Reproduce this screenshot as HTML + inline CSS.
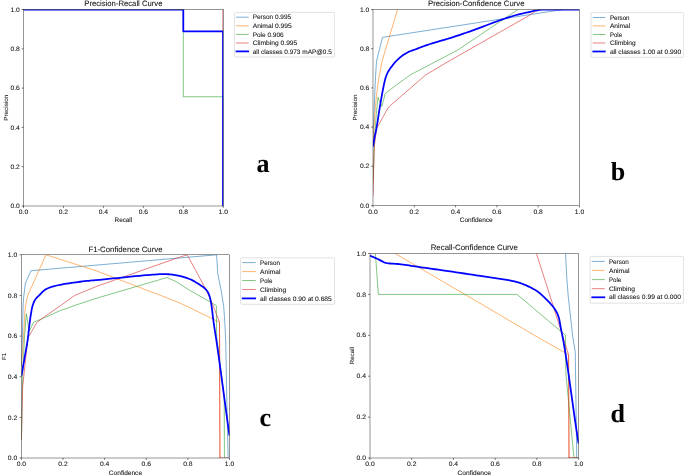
<!DOCTYPE html>
<html lang="en">
<head>
<meta charset="utf-8">
<title>PR, P, F1 and R curves</title>
<style>
html,body{margin:0;padding:0;background:#fff;}
body{width:685px;height:476px;overflow:hidden;font-family:"Liberation Sans",sans-serif;}
svg{display:block;font-family:"Liberation Sans",sans-serif;}
svg text{text-rendering:geometricPrecision;stroke:#111;stroke-width:0.12px;stroke-opacity:0.6;}
</style>
</head>
<body>
<svg width="685" height="476" viewBox="0 0 685 476">
<rect x="0" y="0" width="685" height="476" fill="#ffffff"/>
<g opacity="0.995">
<g id="panel-a">
<clipPath id="clip-a"><rect x="23.50" y="9.50" width="199.75" height="196.50"/></clipPath>
<g clip-path="url(#clip-a)" fill="none" stroke-linejoin="round" stroke-linecap="butt">
<path d="M222.69,9.50 L222.69,31.31" stroke="#e08a8a" stroke-width="0.94"/>
<path d="M23.50,9.50 L183.30,9.50 L183.30,96.75 L223.25,96.75 L223.25,206.00" stroke="#2ca02c" stroke-width="0.59"/>
<path d="M23.50,9.50 L183.30,9.50 L183.30,31.31 L222.99,31.31 L222.99,206.00" stroke="#0000ff" stroke-width="1.76"/>
</g>
<rect x="23.50" y="9.50" width="199.75" height="196.50" fill="none" stroke="#000" stroke-width="0.42"/>
<path d="M23.50,206.00v1.85M23.50,206.00h-1.85" stroke="#000" stroke-width="0.55"/>
<text x="23.50" y="213.70" font-size="6.47" text-anchor="middle" fill="#111" textLength="9.35" lengthAdjust="spacingAndGlyphs">0.0</text>
<text x="19.75" y="208.15" font-size="6.47" text-anchor="end" fill="#111" textLength="9.35" lengthAdjust="spacingAndGlyphs">0.0</text>
<path d="M63.45,206.00v1.85M23.50,166.70h-1.85" stroke="#000" stroke-width="0.55"/>
<text x="63.45" y="213.70" font-size="6.47" text-anchor="middle" fill="#111" textLength="9.35" lengthAdjust="spacingAndGlyphs">0.2</text>
<text x="19.75" y="168.85" font-size="6.47" text-anchor="end" fill="#111" textLength="9.35" lengthAdjust="spacingAndGlyphs">0.2</text>
<path d="M103.40,206.00v1.85M23.50,127.40h-1.85" stroke="#000" stroke-width="0.55"/>
<text x="103.40" y="213.70" font-size="6.47" text-anchor="middle" fill="#111" textLength="9.35" lengthAdjust="spacingAndGlyphs">0.4</text>
<text x="19.75" y="129.55" font-size="6.47" text-anchor="end" fill="#111" textLength="9.35" lengthAdjust="spacingAndGlyphs">0.4</text>
<path d="M143.35,206.00v1.85M23.50,88.10h-1.85" stroke="#000" stroke-width="0.55"/>
<text x="143.35" y="213.70" font-size="6.47" text-anchor="middle" fill="#111" textLength="9.35" lengthAdjust="spacingAndGlyphs">0.6</text>
<text x="19.75" y="90.25" font-size="6.47" text-anchor="end" fill="#111" textLength="9.35" lengthAdjust="spacingAndGlyphs">0.6</text>
<path d="M183.30,206.00v1.85M23.50,48.80h-1.85" stroke="#000" stroke-width="0.55"/>
<text x="183.30" y="213.70" font-size="6.47" text-anchor="middle" fill="#111" textLength="9.35" lengthAdjust="spacingAndGlyphs">0.8</text>
<text x="19.75" y="50.95" font-size="6.47" text-anchor="end" fill="#111" textLength="9.35" lengthAdjust="spacingAndGlyphs">0.8</text>
<path d="M223.25,206.00v1.85M23.50,9.50h-1.85" stroke="#000" stroke-width="0.55"/>
<text x="223.25" y="213.70" font-size="6.47" text-anchor="middle" fill="#111" textLength="9.35" lengthAdjust="spacingAndGlyphs">1.0</text>
<text x="19.75" y="11.65" font-size="6.47" text-anchor="end" fill="#111" textLength="9.35" lengthAdjust="spacingAndGlyphs">1.0</text>
<text x="123.38" y="6.27" font-size="7.76" text-anchor="middle" fill="#111" textLength="78.14" lengthAdjust="spacingAndGlyphs">Precision-Recall Curve</text>
<text x="123.38" y="222.00" font-size="6.47" text-anchor="middle" fill="#111" textLength="17.54" lengthAdjust="spacingAndGlyphs">Recall</text>
<text transform="translate(7.77,107.75) rotate(-90)" font-size="5.88" text-anchor="middle" fill="#1a1a1a" textLength="26.24" lengthAdjust="spacingAndGlyphs">Precision</text>
<rect x="234.50" y="12.40" width="100.20" height="44.60" rx="1.18" fill="#fff" stroke="#cccccc" stroke-width="0.59"/>
<path d="M236.50,17.20H248.20" stroke="#1f77b4" stroke-width="0.59" stroke-linecap="square"/>
<text x="252.70" y="19.32" font-size="6.47" text-anchor="start" fill="#111" textLength="38.46" lengthAdjust="spacingAndGlyphs">Person 0.995</text>
<path d="M236.50,25.80H248.20" stroke="#ff7f0e" stroke-width="0.59" stroke-linecap="square"/>
<text x="252.70" y="27.92" font-size="6.47" text-anchor="start" fill="#111" textLength="39.05" lengthAdjust="spacingAndGlyphs">Animal 0.995</text>
<path d="M236.50,34.40H248.20" stroke="#2ca02c" stroke-width="0.59" stroke-linecap="square"/>
<text x="252.70" y="36.52" font-size="6.47" text-anchor="start" fill="#111" textLength="30.89" lengthAdjust="spacingAndGlyphs">Pole 0.906</text>
<path d="M236.50,43.00H248.20" stroke="#d62728" stroke-width="0.59" stroke-linecap="square"/>
<text x="252.70" y="45.12" font-size="6.47" text-anchor="start" fill="#111" textLength="44.63" lengthAdjust="spacingAndGlyphs">Climbing 0.995</text>
<path d="M236.50,51.40H248.20" stroke="#0000ff" stroke-width="1.76" stroke-linecap="square"/>
<text x="252.70" y="53.52" font-size="6.47" text-anchor="start" fill="#111" textLength="79.12" lengthAdjust="spacingAndGlyphs">all classes 0.973 mAP@0.5</text>
<text x="256.50" y="172.30" font-family="'Liberation Serif', serif" font-weight="bold" font-size="26" fill="#000">a</text>
</g>
<g id="panel-b">
<clipPath id="clip-b"><rect x="373.00" y="9.50" width="206.50" height="196.00"/></clipPath>
<g clip-path="url(#clip-b)" fill="none" stroke-linejoin="round" stroke-linecap="butt">
<path d="M373.00,140.82 L374.18,108.09 L375.35,80.06 L376.51,61.05 L382.50,37.33 L562.98,9.50" stroke="#1f77b4" stroke-width="0.59"/>
<path d="M373.00,140.82 L375.35,108.09 L376.24,97.70 L378.47,80.06 L382.09,61.05 L397.57,9.50" stroke="#ff7f0e" stroke-width="0.59"/>
<path d="M373.00,182.57 L374.65,136.90 L376.24,114.75 L378.00,97.31 L381.82,106.52 L385.35,93.19 L410.17,74.96 L457.66,50.07 L517.96,9.50" stroke="#2ca02c" stroke-width="0.59"/>
<path d="M373.00,195.70 L374.24,146.70 L376.72,128.08 L378.31,125.34 L383.30,116.52 L388.30,107.34 L425.66,74.96 L450.35,60.30 L528.00,16.16 L538.20,9.50" stroke="#d62728" stroke-width="0.59"/>
<path d="M373.00,146.70 L373.24,145.17 L373.48,143.67 L373.72,142.20 L373.96,140.78 L374.19,139.41 L374.43,138.07 L374.68,136.78 L374.94,135.43 L375.21,134.17 L375.48,132.96 L375.75,131.76 L376.02,130.53 L376.29,129.23 L376.58,127.71 L376.97,125.47 L377.35,123.06 L377.74,120.54 L378.13,117.95 L378.52,115.36 L378.91,112.83 L379.25,110.68 L379.47,109.35 L379.69,108.02 L379.91,106.71 L380.12,105.40 L380.34,104.11 L380.56,102.84 L380.80,101.43 L381.09,99.75 L381.38,98.08 L381.67,96.42 L381.96,94.80 L382.25,93.21 L382.54,91.68 L382.87,89.98 L383.26,87.99 L383.65,86.01 L384.04,84.09 L384.43,82.27 L384.82,80.60 L385.20,79.12 L385.59,77.85 L385.98,76.70 L386.37,75.63 L386.76,74.65 L387.15,73.74 L387.53,72.90 L387.92,72.12 L388.38,71.28 L388.87,70.44 L389.37,69.66 L389.86,68.94 L390.36,68.26 L390.86,67.59 L391.35,66.93 L391.98,66.10 L392.66,65.21 L393.35,64.34 L394.03,63.50 L394.71,62.70 L395.40,61.93 L396.08,61.20 L397.03,60.25 L398.05,59.26 L399.07,58.32 L400.10,57.43 L401.12,56.58 L402.14,55.79 L403.16,55.06 L404.03,54.48 L404.89,53.94 L405.74,53.42 L406.59,52.94 L407.44,52.48 L408.29,52.05 L409.14,51.66 L409.99,51.29 L410.84,50.96 L411.70,50.65 L412.55,50.36 L413.40,50.07 L414.25,49.78 L415.14,49.46 L416.82,48.83 L418.50,48.19 L420.18,47.55 L421.86,46.91 L423.55,46.29 L425.23,45.68 L426.91,45.10 L428.63,44.52 L430.36,43.97 L432.08,43.43 L433.80,42.90 L435.52,42.37 L437.24,41.85 L438.88,41.36 L440.24,40.96 L441.60,40.56 L442.97,40.18 L444.33,39.79 L445.69,39.39 L447.05,38.99 L449.04,38.38 L452.43,37.31 L455.83,36.21 L459.23,35.09 L462.63,33.94 L466.03,32.78 L469.43,31.59 L472.83,30.39 L476.24,29.14 L479.64,27.86 L483.05,26.56 L486.45,25.26 L489.86,23.96 L493.26,22.69 L495.86,21.75 L497.56,21.14 L499.26,20.52 L500.96,19.92 L502.67,19.32 L504.37,18.74 L506.07,18.17 L507.77,17.62 L509.48,17.07 L511.18,16.53 L512.88,16.01 L514.58,15.50 L516.29,15.01 L517.99,14.55 L519.47,14.18 L520.83,13.86 L522.20,13.55 L523.56,13.26 L524.92,12.97 L526.28,12.68 L527.64,12.38 L528.87,12.10 L530.05,11.82 L531.22,11.53 L532.40,11.24 L533.58,10.97 L534.75,10.72 L535.93,10.51 L537.12,10.32 L538.32,10.13 L539.51,9.94 L540.71,9.77 L541.90,9.63 L543.10,9.54 L544.29,9.50 L549.03,9.50 L554.11,9.50 L559.19,9.50 L564.27,9.50 L569.34,9.50 L574.42,9.50 L579.50,9.50" stroke="#0000ff" stroke-width="1.76"/>
</g>
<rect x="373.00" y="9.50" width="206.50" height="196.00" fill="none" stroke="#000" stroke-width="0.42"/>
<path d="M373.00,205.50v1.85M373.00,205.50h-1.85" stroke="#000" stroke-width="0.55"/>
<text x="373.00" y="213.67" font-size="6.45" text-anchor="middle" fill="#111" textLength="9.32" lengthAdjust="spacingAndGlyphs">0.0</text>
<text x="369.25" y="207.64" font-size="6.45" text-anchor="end" fill="#111" textLength="9.32" lengthAdjust="spacingAndGlyphs">0.0</text>
<path d="M414.30,205.50v1.85M373.00,166.30h-1.85" stroke="#000" stroke-width="0.55"/>
<text x="414.30" y="213.67" font-size="6.45" text-anchor="middle" fill="#111" textLength="9.32" lengthAdjust="spacingAndGlyphs">0.2</text>
<text x="369.25" y="168.44" font-size="6.45" text-anchor="end" fill="#111" textLength="9.32" lengthAdjust="spacingAndGlyphs">0.2</text>
<path d="M455.60,205.50v1.85M373.00,127.10h-1.85" stroke="#000" stroke-width="0.55"/>
<text x="455.60" y="213.67" font-size="6.45" text-anchor="middle" fill="#111" textLength="9.32" lengthAdjust="spacingAndGlyphs">0.4</text>
<text x="369.25" y="129.24" font-size="6.45" text-anchor="end" fill="#111" textLength="9.32" lengthAdjust="spacingAndGlyphs">0.4</text>
<path d="M496.90,205.50v1.85M373.00,87.90h-1.85" stroke="#000" stroke-width="0.55"/>
<text x="496.90" y="213.67" font-size="6.45" text-anchor="middle" fill="#111" textLength="9.32" lengthAdjust="spacingAndGlyphs">0.6</text>
<text x="369.25" y="90.04" font-size="6.45" text-anchor="end" fill="#111" textLength="9.32" lengthAdjust="spacingAndGlyphs">0.6</text>
<path d="M538.20,205.50v1.85M373.00,48.70h-1.85" stroke="#000" stroke-width="0.55"/>
<text x="538.20" y="213.67" font-size="6.45" text-anchor="middle" fill="#111" textLength="9.32" lengthAdjust="spacingAndGlyphs">0.8</text>
<text x="369.25" y="50.84" font-size="6.45" text-anchor="end" fill="#111" textLength="9.32" lengthAdjust="spacingAndGlyphs">0.8</text>
<path d="M579.50,205.50v1.85M373.00,9.50h-1.85" stroke="#000" stroke-width="0.55"/>
<text x="579.50" y="213.67" font-size="6.45" text-anchor="middle" fill="#111" textLength="9.32" lengthAdjust="spacingAndGlyphs">1.0</text>
<text x="369.25" y="11.64" font-size="6.45" text-anchor="end" fill="#111" textLength="9.32" lengthAdjust="spacingAndGlyphs">1.0</text>
<text x="476.25" y="6.28" font-size="7.74" text-anchor="middle" fill="#111" textLength="96.44" lengthAdjust="spacingAndGlyphs">Precision-Confidence Curve</text>
<text x="476.25" y="222.05" font-size="6.45" text-anchor="middle" fill="#111" textLength="32.95" lengthAdjust="spacingAndGlyphs">Confidence</text>
<text transform="translate(357.33,107.50) rotate(-90)" font-size="5.86" text-anchor="middle" fill="#1a1a1a" textLength="26.15" lengthAdjust="spacingAndGlyphs">Precision</text>
<rect x="591.00" y="12.60" width="92.70" height="44.70" rx="1.17" fill="#fff" stroke="#cccccc" stroke-width="0.59"/>
<path d="M593.30,17.50H604.80" stroke="#1f77b4" stroke-width="0.59" stroke-linecap="square"/>
<text x="609.90" y="19.61" font-size="6.45" text-anchor="start" fill="#111" textLength="19.69" lengthAdjust="spacingAndGlyphs">Person</text>
<path d="M593.30,25.90H604.80" stroke="#ff7f0e" stroke-width="0.59" stroke-linecap="square"/>
<text x="609.90" y="28.01" font-size="6.45" text-anchor="start" fill="#111" textLength="20.28" lengthAdjust="spacingAndGlyphs">Animal</text>
<path d="M593.30,34.50H604.80" stroke="#2ca02c" stroke-width="0.59" stroke-linecap="square"/>
<text x="609.90" y="36.61" font-size="6.45" text-anchor="start" fill="#111" textLength="12.14" lengthAdjust="spacingAndGlyphs">Pole</text>
<path d="M593.30,43.00H604.80" stroke="#d62728" stroke-width="0.59" stroke-linecap="square"/>
<text x="609.90" y="45.11" font-size="6.45" text-anchor="start" fill="#111" textLength="25.84" lengthAdjust="spacingAndGlyphs">Climbing</text>
<path d="M593.30,51.50H604.80" stroke="#0000ff" stroke-width="1.76" stroke-linecap="square"/>
<text x="609.90" y="53.61" font-size="6.45" text-anchor="start" fill="#111" textLength="71.22" lengthAdjust="spacingAndGlyphs">all classes 1.00 at 0.990</text>
<text x="610.80" y="180.00" font-family="'Liberation Serif', serif" font-weight="bold" font-size="26" fill="#000">b</text>
</g>
<g id="panel-c">
<clipPath id="clip-c"><rect x="21.40" y="254.80" width="208.10" height="203.20"/></clipPath>
<g clip-path="url(#clip-c)" fill="none" stroke-linejoin="round" stroke-linecap="butt">
<path d="M21.40,366.56 L22.36,338.11 L23.06,306.21 L23.65,297.17 L25.42,283.04 L31.06,270.73 L216.60,254.80 L217.76,273.70 L221.30,291.38 L223.67,306.21 L224.82,322.26 L225.75,342.18 L226.79,400.09 L228.15,458.00" stroke="#1f77b4" stroke-width="0.59"/>
<path d="M21.40,366.56 L23.50,338.11 L24.83,313.79 L25.42,306.21 L27.77,295.44 L45.96,254.80 L96.00,270.73 L176.00,301.33 L186.01,305.80 L219.51,322.26 L219.93,458.00" stroke="#ff7f0e" stroke-width="0.59"/>
<path d="M21.40,439.71 L22.65,376.72 L24.52,336.08 L26.39,313.79 L29.25,331.41 L33.66,322.16 L42.48,318.60 L60.11,310.70 L76.01,304.99 L96.00,298.39 L167.19,277.46 L176.00,281.62 L189.54,290.16 L213.06,303.65 L216.39,305.80 L216.60,336.08 L224.19,397.04 L224.46,458.00" stroke="#2ca02c" stroke-width="0.59"/>
<path d="M21.40,439.71 L22.65,386.88 L27.91,338.11 L36.74,322.61 L42.48,318.20 L60.11,305.86 L74.82,295.44 L96.00,286.60 L176.00,258.40 L187.19,254.80 L205.40,288.33 L213.06,305.40 L219.51,322.26 L219.93,458.00 L229.50,458.00" stroke="#d62728" stroke-width="0.59"/>
<path d="M21.40,375.91 L21.71,374.15 L22.03,372.39 L22.34,370.63 L22.66,368.86 L22.97,367.09 L23.39,364.70 L23.87,362.04 L24.34,359.38 L24.81,356.70 L25.28,353.99 L25.74,351.31 L26.18,348.80 L26.63,346.30 L27.07,343.70 L27.51,340.90 L27.94,337.92 L28.19,335.87 L28.44,333.56 L28.69,331.15 L28.94,328.76 L29.20,326.54 L29.44,324.53 L29.69,322.59 L29.94,320.71 L30.19,318.92 L30.43,317.23 L30.72,315.37 L31.06,313.26 L31.39,311.25 L31.72,309.39 L32.06,307.78 L32.42,306.37 L32.91,304.77 L33.41,303.36 L33.90,302.13 L34.39,301.08 L34.88,300.19 L35.66,299.03 L36.47,298.02 L37.28,297.15 L38.10,296.35 L38.91,295.56 L39.93,294.51 L41.10,293.30 L42.27,292.12 L43.43,291.03 L44.60,290.09 L45.75,289.35 L46.86,288.75 L47.97,288.22 L49.08,287.75 L50.19,287.34 L51.30,286.97 L53.52,286.32 L55.74,285.75 L57.96,285.25 L60.18,284.80 L62.40,284.39 L64.61,283.99 L66.83,283.63 L69.05,283.30 L71.27,282.99 L73.49,282.68 L75.71,282.37 L77.93,282.06 L80.15,281.75 L82.38,281.45 L84.60,281.17 L86.78,280.93 L88.55,280.76 L90.32,280.61 L92.10,280.47 L93.87,280.32 L95.65,280.17 L99.55,279.81 L103.99,279.37 L108.43,278.93 L112.86,278.48 L117.30,278.02 L121.74,277.58 L126.18,277.12 L130.62,276.66 L135.06,276.20 L139.50,275.77 L143.50,275.41 L145.72,275.21 L147.94,275.03 L150.17,274.85 L152.39,274.68 L154.61,274.53 L156.23,274.41 L157.78,274.29 L159.33,274.17 L160.88,274.08 L162.43,274.03 L163.72,274.03 L164.83,274.06 L165.94,274.11 L167.05,274.18 L168.17,274.25 L169.39,274.34 L170.88,274.47 L172.37,274.65 L173.87,274.85 L175.36,275.07 L176.85,275.32 L179.25,275.79 L181.64,276.38 L184.04,277.06 L186.43,277.84 L188.83,278.71 L190.78,279.50 L192.55,280.38 L194.32,281.37 L196.08,282.45 L197.85,283.58 L199.44,284.61 L200.78,285.44 L202.11,286.30 L203.45,287.25 L204.78,288.36 L206.04,289.61 L206.59,290.25 L207.14,290.99 L207.69,291.84 L208.24,292.83 L208.79,293.97 L209.17,294.91 L209.51,295.93 L209.85,297.12 L210.20,298.46 L210.54,299.94 L210.79,301.13 L210.96,302.05 L211.13,303.06 L211.30,304.15 L211.47,305.28 L211.67,306.67 L212.00,309.19 L212.33,311.94 L212.66,314.78 L212.99,317.58 L213.32,320.19 L213.95,324.70 L214.62,329.14 L215.29,333.40 L215.95,337.64 L216.62,341.99 L218.29,353.62 L220.63,370.57 L222.97,387.96 L225.31,405.42 L227.65,422.58 L229.30,434.31 L229.34,434.58 L229.38,434.85 L229.42,435.11 L229.46,435.38 L229.50,435.65" stroke="#0000ff" stroke-width="1.77"/>
</g>
<rect x="21.40" y="254.80" width="208.10" height="203.20" fill="none" stroke="#000" stroke-width="0.42"/>
<path d="M21.40,458.00v1.85M21.40,458.00h-1.85" stroke="#000" stroke-width="0.55"/>
<text x="21.40" y="466.33" font-size="6.49" text-anchor="middle" fill="#111" textLength="9.38" lengthAdjust="spacingAndGlyphs">0.0</text>
<text x="17.25" y="460.15" font-size="6.49" text-anchor="end" fill="#111" textLength="9.38" lengthAdjust="spacingAndGlyphs">0.0</text>
<path d="M63.02,458.00v1.85M21.40,417.36h-1.85" stroke="#000" stroke-width="0.55"/>
<text x="63.02" y="466.33" font-size="6.49" text-anchor="middle" fill="#111" textLength="9.38" lengthAdjust="spacingAndGlyphs">0.2</text>
<text x="17.25" y="419.51" font-size="6.49" text-anchor="end" fill="#111" textLength="9.38" lengthAdjust="spacingAndGlyphs">0.2</text>
<path d="M104.64,458.00v1.85M21.40,376.72h-1.85" stroke="#000" stroke-width="0.55"/>
<text x="104.64" y="466.33" font-size="6.49" text-anchor="middle" fill="#111" textLength="9.38" lengthAdjust="spacingAndGlyphs">0.4</text>
<text x="17.25" y="378.87" font-size="6.49" text-anchor="end" fill="#111" textLength="9.38" lengthAdjust="spacingAndGlyphs">0.4</text>
<path d="M146.26,458.00v1.85M21.40,336.08h-1.85" stroke="#000" stroke-width="0.55"/>
<text x="146.26" y="466.33" font-size="6.49" text-anchor="middle" fill="#111" textLength="9.38" lengthAdjust="spacingAndGlyphs">0.6</text>
<text x="17.25" y="338.23" font-size="6.49" text-anchor="end" fill="#111" textLength="9.38" lengthAdjust="spacingAndGlyphs">0.6</text>
<path d="M187.88,458.00v1.85M21.40,295.44h-1.85" stroke="#000" stroke-width="0.55"/>
<text x="187.88" y="466.33" font-size="6.49" text-anchor="middle" fill="#111" textLength="9.38" lengthAdjust="spacingAndGlyphs">0.8</text>
<text x="17.25" y="297.59" font-size="6.49" text-anchor="end" fill="#111" textLength="9.38" lengthAdjust="spacingAndGlyphs">0.8</text>
<path d="M229.50,458.00v1.85M21.40,254.80h-1.85" stroke="#000" stroke-width="0.55"/>
<text x="229.50" y="466.33" font-size="6.49" text-anchor="middle" fill="#111" textLength="9.38" lengthAdjust="spacingAndGlyphs">1.0</text>
<text x="17.25" y="256.95" font-size="6.49" text-anchor="end" fill="#111" textLength="9.38" lengthAdjust="spacingAndGlyphs">1.0</text>
<text x="125.45" y="251.91" font-size="7.79" text-anchor="middle" fill="#111" textLength="74.08" lengthAdjust="spacingAndGlyphs">F1-Confidence Curve</text>
<text x="125.45" y="474.65" font-size="6.49" text-anchor="middle" fill="#111" textLength="33.17" lengthAdjust="spacingAndGlyphs">Confidence</text>
<text transform="translate(5.61,356.40) rotate(-90)" font-size="5.90" text-anchor="middle" fill="#1a1a1a" textLength="7.15" lengthAdjust="spacingAndGlyphs">F1</text>
<rect x="240.60" y="257.80" width="94.00" height="46.50" rx="1.18" fill="#fff" stroke="#cccccc" stroke-width="0.59"/>
<path d="M242.70,262.60H255.20" stroke="#1f77b4" stroke-width="0.59" stroke-linecap="square"/>
<text x="260.10" y="264.72" font-size="6.49" text-anchor="start" fill="#111" textLength="19.83" lengthAdjust="spacingAndGlyphs">Person</text>
<path d="M242.70,271.60H255.20" stroke="#ff7f0e" stroke-width="0.59" stroke-linecap="square"/>
<text x="260.10" y="273.72" font-size="6.49" text-anchor="start" fill="#111" textLength="20.42" lengthAdjust="spacingAndGlyphs">Animal</text>
<path d="M242.70,280.50H255.20" stroke="#2ca02c" stroke-width="0.59" stroke-linecap="square"/>
<text x="260.10" y="282.62" font-size="6.49" text-anchor="start" fill="#111" textLength="12.23" lengthAdjust="spacingAndGlyphs">Pole</text>
<path d="M242.70,289.50H255.20" stroke="#d62728" stroke-width="0.59" stroke-linecap="square"/>
<text x="260.10" y="291.62" font-size="6.49" text-anchor="start" fill="#111" textLength="26.01" lengthAdjust="spacingAndGlyphs">Climbing</text>
<path d="M242.70,298.40H255.20" stroke="#0000ff" stroke-width="1.77" stroke-linecap="square"/>
<text x="260.10" y="300.52" font-size="6.49" text-anchor="start" fill="#111" textLength="71.70" lengthAdjust="spacingAndGlyphs">all classes 0.90 at 0.685</text>
<text x="259.40" y="426.40" font-family="'Liberation Serif', serif" font-weight="bold" font-size="26" fill="#000">c</text>
</g>
<g id="panel-d">
<clipPath id="clip-d"><rect x="370.00" y="253.50" width="208.60" height="204.50"/></clipPath>
<g clip-path="url(#clip-d)" fill="none" stroke-linejoin="round" stroke-linecap="butt">
<path d="M565.58,253.50 L566.75,277.43 L568.38,298.08 L569.11,304.07 L572.65,336.12 L575.26,352.15 L576.72,458.00 L578.60,458.00" stroke="#1f77b4" stroke-width="0.59"/>
<path d="M395.18,253.50 L444.87,282.74 L481.39,304.07 L534.96,335.63 L564.00,352.15 L568.59,354.93 L569.00,458.00 L578.60,458.00" stroke="#ff7f0e" stroke-width="0.59"/>
<path d="M375.40,253.50 L378.34,294.40 L516.94,294.40 L527.87,303.40 L534.96,309.57 L565.46,335.18 L565.88,373.95 L574.01,458.00 L578.60,458.00" stroke="#2ca02c" stroke-width="0.59"/>
<path d="M536.46,253.50 L552.63,304.07 L568.59,354.93 L569.00,458.00 L578.60,458.00" stroke="#d62728" stroke-width="0.59"/>
<path d="M370.00,255.65 L370.94,256.06 L371.89,256.47 L372.83,256.89 L373.78,257.30 L374.72,257.72 L375.67,258.14 L376.61,258.56 L377.56,258.98 L378.50,259.40 L379.43,259.85 L380.37,260.35 L381.30,260.87 L382.23,261.38 L383.16,261.87 L384.10,262.30 L385.03,262.67 L385.96,262.95 L387.09,263.14 L388.63,263.34 L390.16,263.49 L391.69,263.61 L393.23,263.71 L394.76,263.80 L396.29,263.90 L397.82,264.01 L399.36,264.14 L401.12,264.33 L403.12,264.58 L405.12,264.85 L407.11,265.15 L409.11,265.47 L411.11,265.79 L413.11,266.11 L415.11,266.43 L417.10,266.74 L419.81,267.13 L422.88,267.56 L425.95,267.98 L429.02,268.41 L432.08,268.83 L435.15,269.25 L438.22,269.68 L441.29,270.11 L444.36,270.54 L448.20,271.10 L452.20,271.69 L456.20,272.29 L460.20,272.89 L464.20,273.50 L468.20,274.11 L472.20,274.72 L476.20,275.33 L480.20,275.93 L483.54,276.42 L486.87,276.89 L490.20,277.35 L493.53,277.81 L496.86,278.28 L500.20,278.77 L503.53,279.30 L506.86,279.87 L509.79,280.42 L510.73,280.61 L511.66,280.81 L512.60,281.02 L513.53,281.24 L514.47,281.47 L515.40,281.71 L516.34,281.96 L517.27,282.22 L518.16,282.47 L518.96,282.71 L519.76,282.96 L520.56,283.22 L521.36,283.50 L522.15,283.78 L522.95,284.08 L523.75,284.39 L524.55,284.71 L525.71,285.19 L527.25,285.86 L528.78,286.57 L530.31,287.31 L531.84,288.10 L533.38,288.94 L534.91,289.84 L536.44,290.79 L537.98,291.80 L538.93,292.47 L539.60,292.99 L540.27,293.56 L540.94,294.15 L541.60,294.78 L542.27,295.41 L542.94,296.06 L543.61,296.72 L544.28,297.36 L544.94,297.99 L545.60,298.63 L546.26,299.27 L546.92,299.92 L547.59,300.59 L548.25,301.26 L548.91,301.96 L549.57,302.67 L550.23,303.40 L550.75,303.98 L551.27,304.56 L551.79,305.14 L552.31,305.74 L552.83,306.37 L553.35,307.02 L553.87,307.72 L554.39,308.46 L554.89,309.24 L555.34,309.96 L555.79,310.70 L556.24,311.49 L556.69,312.33 L557.14,313.25 L557.59,314.26 L558.04,315.37 L558.48,316.61 L558.87,317.78 L559.12,318.75 L559.37,319.90 L559.63,321.19 L559.88,322.59 L560.13,324.04 L560.38,325.51 L560.64,326.96 L560.89,328.34 L561.14,329.63 L561.39,330.88 L561.64,332.10 L561.89,333.32 L562.14,334.53 L562.39,335.77 L562.64,337.02 L562.89,338.32 L563.14,339.67 L564.34,346.55 L566.01,356.94 L567.68,368.06 L569.35,379.68 L571.02,391.60 L572.69,403.61 L574.36,415.51 L576.03,427.07 L577.70,438.09 L578.03,440.23 L578.10,440.67 L578.17,441.11 L578.25,441.54 L578.32,441.97 L578.39,442.40 L578.46,442.83 L578.53,443.26 L578.60,443.69" stroke="#0000ff" stroke-width="1.78"/>
</g>
<rect x="370.00" y="253.50" width="208.60" height="204.50" fill="none" stroke="#000" stroke-width="0.42"/>
<path d="M370.00,458.00v1.85M370.00,458.00h-1.85" stroke="#000" stroke-width="0.55"/>
<text x="370.00" y="466.18" font-size="6.53" text-anchor="middle" fill="#111" textLength="9.45" lengthAdjust="spacingAndGlyphs">0.0</text>
<text x="366.00" y="460.17" font-size="6.53" text-anchor="end" fill="#111" textLength="9.45" lengthAdjust="spacingAndGlyphs">0.0</text>
<path d="M411.72,458.00v1.85M370.00,417.10h-1.85" stroke="#000" stroke-width="0.55"/>
<text x="411.72" y="466.18" font-size="6.53" text-anchor="middle" fill="#111" textLength="9.45" lengthAdjust="spacingAndGlyphs">0.2</text>
<text x="366.00" y="419.27" font-size="6.53" text-anchor="end" fill="#111" textLength="9.45" lengthAdjust="spacingAndGlyphs">0.2</text>
<path d="M453.44,458.00v1.85M370.00,376.20h-1.85" stroke="#000" stroke-width="0.55"/>
<text x="453.44" y="466.18" font-size="6.53" text-anchor="middle" fill="#111" textLength="9.45" lengthAdjust="spacingAndGlyphs">0.4</text>
<text x="366.00" y="378.37" font-size="6.53" text-anchor="end" fill="#111" textLength="9.45" lengthAdjust="spacingAndGlyphs">0.4</text>
<path d="M495.16,458.00v1.85M370.00,335.30h-1.85" stroke="#000" stroke-width="0.55"/>
<text x="495.16" y="466.18" font-size="6.53" text-anchor="middle" fill="#111" textLength="9.45" lengthAdjust="spacingAndGlyphs">0.6</text>
<text x="366.00" y="337.47" font-size="6.53" text-anchor="end" fill="#111" textLength="9.45" lengthAdjust="spacingAndGlyphs">0.6</text>
<path d="M536.88,458.00v1.85M370.00,294.40h-1.85" stroke="#000" stroke-width="0.55"/>
<text x="536.88" y="466.18" font-size="6.53" text-anchor="middle" fill="#111" textLength="9.45" lengthAdjust="spacingAndGlyphs">0.8</text>
<text x="366.00" y="296.57" font-size="6.53" text-anchor="end" fill="#111" textLength="9.45" lengthAdjust="spacingAndGlyphs">0.8</text>
<path d="M578.60,458.00v1.85M370.00,253.50h-1.85" stroke="#000" stroke-width="0.55"/>
<text x="578.60" y="466.18" font-size="6.53" text-anchor="middle" fill="#111" textLength="9.45" lengthAdjust="spacingAndGlyphs">1.0</text>
<text x="366.00" y="255.67" font-size="6.53" text-anchor="end" fill="#111" textLength="9.45" lengthAdjust="spacingAndGlyphs">1.0</text>
<text x="474.30" y="250.24" font-size="7.84" text-anchor="middle" fill="#111" textLength="87.21" lengthAdjust="spacingAndGlyphs">Recall-Confidence Curve</text>
<text x="474.30" y="474.56" font-size="6.53" text-anchor="middle" fill="#111" textLength="33.40" lengthAdjust="spacingAndGlyphs">Confidence</text>
<text transform="translate(354.09,355.75) rotate(-90)" font-size="5.94" text-anchor="middle" fill="#1a1a1a" textLength="17.72" lengthAdjust="spacingAndGlyphs">Recall</text>
<rect x="590.10" y="256.40" width="93.50" height="46.80" rx="1.19" fill="#fff" stroke="#cccccc" stroke-width="0.59"/>
<path d="M592.30,261.40H604.30" stroke="#1f77b4" stroke-width="0.59" stroke-linecap="square"/>
<text x="608.90" y="263.54" font-size="6.53" text-anchor="start" fill="#111" textLength="19.96" lengthAdjust="spacingAndGlyphs">Person</text>
<path d="M592.30,270.40H604.30" stroke="#ff7f0e" stroke-width="0.59" stroke-linecap="square"/>
<text x="608.90" y="272.54" font-size="6.53" text-anchor="start" fill="#111" textLength="20.56" lengthAdjust="spacingAndGlyphs">Animal</text>
<path d="M592.30,279.60H604.30" stroke="#2ca02c" stroke-width="0.59" stroke-linecap="square"/>
<text x="608.90" y="281.74" font-size="6.53" text-anchor="start" fill="#111" textLength="12.31" lengthAdjust="spacingAndGlyphs">Pole</text>
<path d="M592.30,288.70H604.30" stroke="#d62728" stroke-width="0.59" stroke-linecap="square"/>
<text x="608.90" y="290.84" font-size="6.53" text-anchor="start" fill="#111" textLength="26.19" lengthAdjust="spacingAndGlyphs">Climbing</text>
<path d="M592.30,297.30H604.30" stroke="#0000ff" stroke-width="1.78" stroke-linecap="square"/>
<text x="608.90" y="299.44" font-size="6.53" text-anchor="start" fill="#111" textLength="72.19" lengthAdjust="spacingAndGlyphs">all classes 0.99 at 0.000</text>
<text x="610.60" y="422.10" font-family="'Liberation Serif', serif" font-weight="bold" font-size="26" fill="#000">d</text>
</g>
</g>
</svg>
</body>
</html>
